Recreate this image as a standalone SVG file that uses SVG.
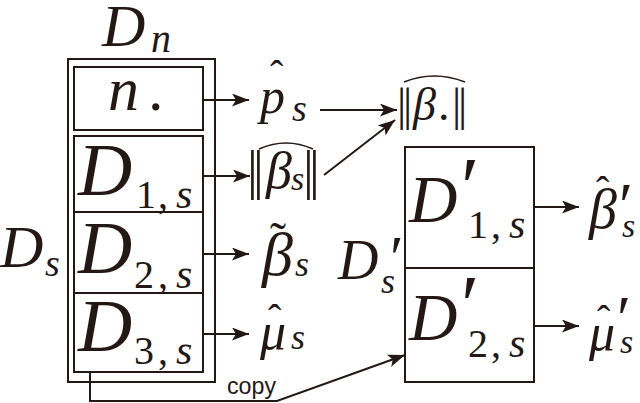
<svg xmlns="http://www.w3.org/2000/svg" width="640" height="403" viewBox="0 0 640 403">
<style>
.box{fill:none;stroke:#231815;stroke-width:2}
.ln{fill:none;stroke:#231815;stroke-width:2}
.hat{fill:none;stroke:#231815;stroke-width:1.6}
.m{font-family:"Liberation Serif","Times New Roman",serif;font-style:italic;fill:#231815}
.r{font-style:normal}
.sans{font-family:"Liberation Sans",Arial,sans-serif;fill:#231815}
</style>
<defs>
<marker id="ah" markerUnits="userSpaceOnUse" markerWidth="17" markerHeight="13" refX="17" refY="6.5" orient="auto">
<path d="M0,0 L17,6.5 L0,13 L4,6.5 Z" fill="#231815"/>
</marker>
</defs>
<g id="Dn">
<rect class="box" x="68" y="59" width="147" height="323"/>
<text class="m" x="102" y="46" font-size="60">D<tspan x="151" y="52" font-size="40">n</tspan></text>
</g>
<g id="n-dot">
<rect class="box" x="74" y="67" width="129" height="63"/>
<text class="m" y="110" font-size="62"><tspan x="108">n</tspan><tspan class="r" x="148">.</tspan></text>
</g>
<g id="D1s">
<rect class="box" x="74" y="136" width="129" height="76"/>
<text class="m" x="78" y="195" font-size="75">D<tspan class="r" x="136" y="208" font-size="40">1</tspan><tspan class="r" x="158" font-size="40">,</tspan><tspan x="176" font-size="42">s</tspan></text>
</g>
<g id="D2s">
<rect class="box" x="74" y="212" width="129" height="81"/>
<text class="m" x="78" y="273" font-size="75">D<tspan class="r" x="134" y="288" font-size="40">2</tspan><tspan class="r" x="158" font-size="40">,</tspan><tspan x="176" font-size="42">s</tspan></text>
</g>
<g id="D3s">
<rect class="box" x="74" y="293" width="129" height="79"/>
<text class="m" x="78" y="351" font-size="75">D<tspan class="r" x="134" y="364" font-size="40">3</tspan><tspan class="r" x="158" font-size="40">,</tspan><tspan x="176" font-size="42">s</tspan></text>
</g>
<g id="Ds">
<text class="m" x="0" y="267" font-size="60">D<tspan x="45" y="276" font-size="38">s</tspan></text>
</g>
<g id="p-hat">
<text class="m" x="260" y="113" font-size="50">p<tspan x="270" y="88" class="r" font-size="40">ˆ</tspan><tspan x="292" y="121" font-size="38">s</tspan></text>
</g>
<g id="beta-norm">
<path class="hat" d="M404,82 Q434,70 465,82"/>
<text class="m" y="120" font-size="46"><tspan class="r" x="397">|</tspan><tspan class="r" x="403">|</tspan><tspan x="413">β</tspan><tspan class="r" x="438">.</tspan><tspan class="r" x="452">|</tspan><tspan class="r" x="458">|</tspan></text>
</g>
<g id="beta-s-norm">
<path class="hat" d="M259,149 Q286,137 313,149"/>
<text class="m" y="188" font-size="54"><tspan class="r" x="247">|</tspan><tspan class="r" x="253">|</tspan><tspan x="266" font-size="52">β</tspan><tspan x="291" y="190" font-size="34">s</tspan><tspan class="r" x="303" y="188">|</tspan><tspan class="r" x="309">|</tspan></text>
</g>
<g id="beta-tilde">
<text class="m" x="262" y="275" font-size="62">β<tspan class="r" x="270" y="256" font-size="48">˜</tspan><tspan x="295" y="276" font-size="36">s</tspan></text>
</g>
<g id="mu-hat">
<text class="m" x="260" y="349" font-size="52">μ<tspan class="r" x="268" y="332" font-size="40">ˆ</tspan><tspan x="291" y="349" font-size="36">s</tspan></text>
</g>
<g id="Dps">
<rect class="box" x="405" y="147" width="129" height="235"/>
<line class="box" x1="405" y1="268" x2="534" y2="268"/>
<text class="m" x="338" y="279" font-size="56">D<tspan class="r" x="390" y="278" font-size="62">′</tspan><tspan x="381" y="293" font-size="36">s</tspan></text>
</g>
<g id="Dp1s">
<text class="m" x="409" y="222" font-size="67">D<tspan class="r" x="461" y="216" font-size="84">′</tspan><tspan class="r" x="468" y="238" font-size="40">1</tspan><tspan class="r" x="491" font-size="40">,</tspan><tspan x="509" font-size="42">s</tspan></text>
</g>
<g id="Dp2s">
<text class="m" x="409" y="340" font-size="67">D<tspan class="r" x="461" y="334" font-size="84">′</tspan><tspan class="r" x="468" y="357" font-size="40">2</tspan><tspan class="r" x="491" font-size="40">,</tspan><tspan x="509" font-size="42">s</tspan></text>
</g>
<g id="beta-hat-p">
<text class="m" x="589" y="228" font-size="56">β<tspan class="r" x="596" y="204" font-size="40">ˆ</tspan><tspan class="r" x="619" y="227" font-size="64">′</tspan><tspan x="622" y="237" font-size="34">s</tspan></text>
</g>
<g id="mu-hat-p">
<text class="m" x="589" y="350" font-size="52">μ<tspan class="r" x="597" y="333" font-size="40">ˆ</tspan><tspan class="r" x="617" y="340" font-size="64">′</tspan><tspan x="620" y="353" font-size="34">s</tspan></text>
</g>
<g id="connectors">
<path class="ln" d="M203,100 H249" marker-end="url(#ah)"/>
<path class="ln" d="M203,176 H250" marker-end="url(#ah)"/>
<path class="ln" d="M203,254 H249" marker-end="url(#ah)"/>
<path class="ln" d="M203,334 H249" marker-end="url(#ah)"/>
<path class="ln" d="M320,110 H397" marker-end="url(#ah)"/>
<path class="ln" d="M324,175 L395,120" marker-end="url(#ah)"/>
<path class="ln" d="M534,207 H579" marker-end="url(#ah)"/>
<path class="ln" d="M534,326 H579" marker-end="url(#ah)"/>
<path class="ln" d="M90,372 V401 H277 L405,355" marker-end="url(#ah)"/>
<text class="sans" x="227" y="394" font-size="23" textLength="49" lengthAdjust="spacingAndGlyphs">copy</text>
</g>
</svg>
